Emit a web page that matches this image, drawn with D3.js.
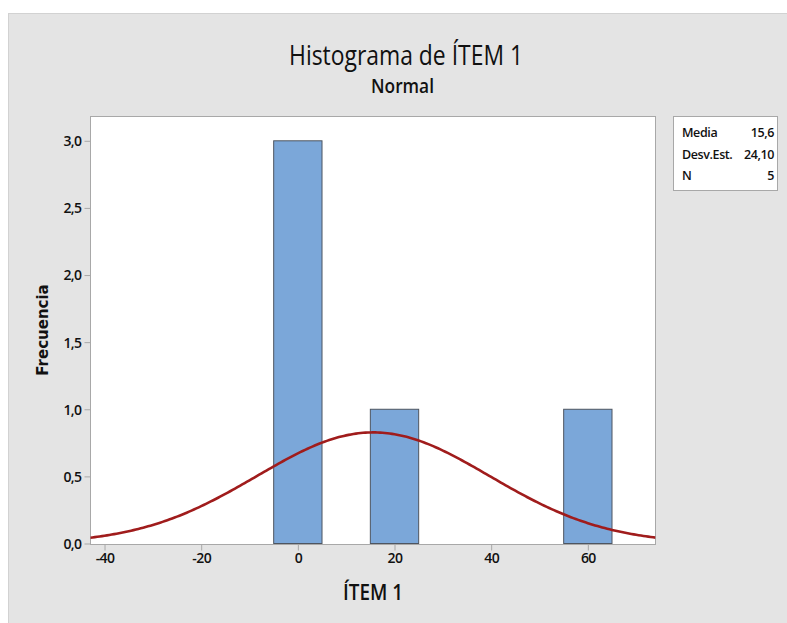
<!DOCTYPE html>
<html><head><meta charset="utf-8">
<script src="https://cdn.jsdelivr.net/npm/d3@7"></script>
<style>html,body{margin:0;padding:0;background:#fff;overflow:hidden}</style>
</head><body>
<svg id="c" width="787" height="623"></svg>
<script>
const binStarts = [-5, 5, 15, 25, 35, 45, 55];
const binWidth = 10;
const counts = [3, 0, 1, 0, 0, 0, 1];
const xTicks = [-40, -20, 0, 20, 40, 60];
const yTicks = [0, 0.5, 1, 1.5, 2, 2.5, 3];
const statLabels = ["Media", "Desv.Est.", "N"];
const statValues = ["15,6", "24,10", "5"];
const mean = 15.6, sd = 24.10, n = 5;

const svg = d3.select("#c");
const font = "'Open Sans', sans-serif";
svg.append("rect").attr("x", 8.5).attr("y", 13.5).attr("width", 790).attr("height", 620)
  .attr("fill", "#e4e4e4").attr("stroke", "#d2d2d2");

const L = 90.5, R = 655.5, T = 116.5, B = 544.5;
const x = d3.scaleLinear().domain([-42.9, 74]).range([L, R]);
const y = d3.scaleLinear().domain([0, 3]).range([543.5, 140.8]);

svg.append("rect").attr("x", L).attr("y", T).attr("width", R - L).attr("height", B - T)
  .attr("fill", "#fff").attr("stroke", "#a8a8a8");

svg.append("clipPath").attr("id", "clp").append("rect")
  .attr("x", L).attr("y", T).attr("width", R - L).attr("height", B - T);

// bars
svg.append("g").selectAll("rect").data(binStarts).join("rect")
  .attr("x", d => x(d)).attr("width", d => x(d + binWidth) - x(d))
  .attr("y", (d, i) => y(counts[i])).attr("height", (d, i) => y(0) - y(counts[i]))
  .attr("fill", "#7ba7d9").attr("stroke", "#4e5560").attr("stroke-width", 1);

// fitted normal curve from the stated mean / sd / N
const scale = n * binWidth / (sd * Math.sqrt(2 * Math.PI));
const pts = d3.range(-43, 74.5, 0.5).map(v => [v, scale * Math.exp(-0.5 * ((v - mean) / sd) ** 2)]);
svg.append("path").datum(pts).attr("clip-path", "url(#clp)")
  .attr("d", d3.line().x(d => x(d[0])).y(d => y(d[1])))
  .attr("fill", "none").attr("stroke", "#a01c1c").attr("stroke-width", 2.6);

// axes
const fmt = d => d3.format(".1f")(d).replace(".", ",");
const xa = svg.append("g").attr("transform", `translate(0,${B})`)
  .call(d3.axisBottom(x).tickValues(xTicks).tickSize(6).tickSizeOuter(0).tickPadding(3).tickFormat(d => d));
const ya = svg.append("g").attr("transform", `translate(${L},0)`)
  .call(d3.axisLeft(y).tickValues(yTicks).tickSize(6).tickSizeOuter(0).tickPadding(3).tickFormat(fmt));
[xa, ya].forEach(a => {
  a.select(".domain").remove();
  a.selectAll(".tick line").attr("stroke", "#a8a8a8");
  a.selectAll(".tick text").attr("fill", "#111").style("font-family", font)
    .style("font-size", "14px").style("font-weight", 600).attr("letter-spacing", "-0.6px");
});
ya.selectAll(".tick text").attr("dy", "0.35em");

// titles
svg.append("text").attr("x", 406).attr("y", 65).attr("text-anchor", "middle")
  .attr("textLength", 234).attr("lengthAdjust", "spacingAndGlyphs")
  .style("font-family", font).style("font-size", "27px").style("font-weight", 500).attr("fill", "#111").text("Histograma de ÍTEM 1");
svg.append("text").attr("x", 402.5).attr("y", 93).attr("text-anchor", "middle")
  .attr("textLength", 63).attr("lengthAdjust", "spacingAndGlyphs")
  .style("font-family", font).style("font-size", "19px").style("font-weight", 600).attr("fill", "#111").text("Normal");
svg.append("text").attr("x", 373).attr("y", 600).attr("text-anchor", "middle")
  .attr("textLength", 60).attr("lengthAdjust", "spacingAndGlyphs")
  .style("font-family", font).style("font-size", "21px").style("font-weight", 600).attr("fill", "#111").text("ÍTEM 1");
svg.append("text").attr("transform", "translate(48,330) rotate(-90)").attr("text-anchor", "middle")
  .style("font-family", "'DejaVu Sans', sans-serif").style("font-size", "15px").style("font-weight", "bold")
  .attr("fill", "#111").text("Frecuencia");

// stats box
const sb = svg.append("g");
sb.append("rect").attr("x", 673.5).attr("y", 116.5).attr("width", 104).attr("height", 74)
  .attr("fill", "#fff").attr("stroke", "#a8a8a8");
statLabels.forEach((s, i) => {
  sb.append("text").attr("x", 682).attr("y", 137 + i * 21.5)
    .style("font-family", font).style("font-size", "12.5px").style("font-weight", 600)
    .attr("letter-spacing", "-0.4px").attr("fill", "#111").text(s);
  sb.append("text").attr("x", 774).attr("y", 137 + i * 21.5).attr("text-anchor", "end")
    .style("font-family", font).style("font-size", "12.5px").style("font-weight", 600)
    .attr("letter-spacing", "-0.4px").attr("fill", "#111").text(statValues[i]);
});
</script>
</body></html>
